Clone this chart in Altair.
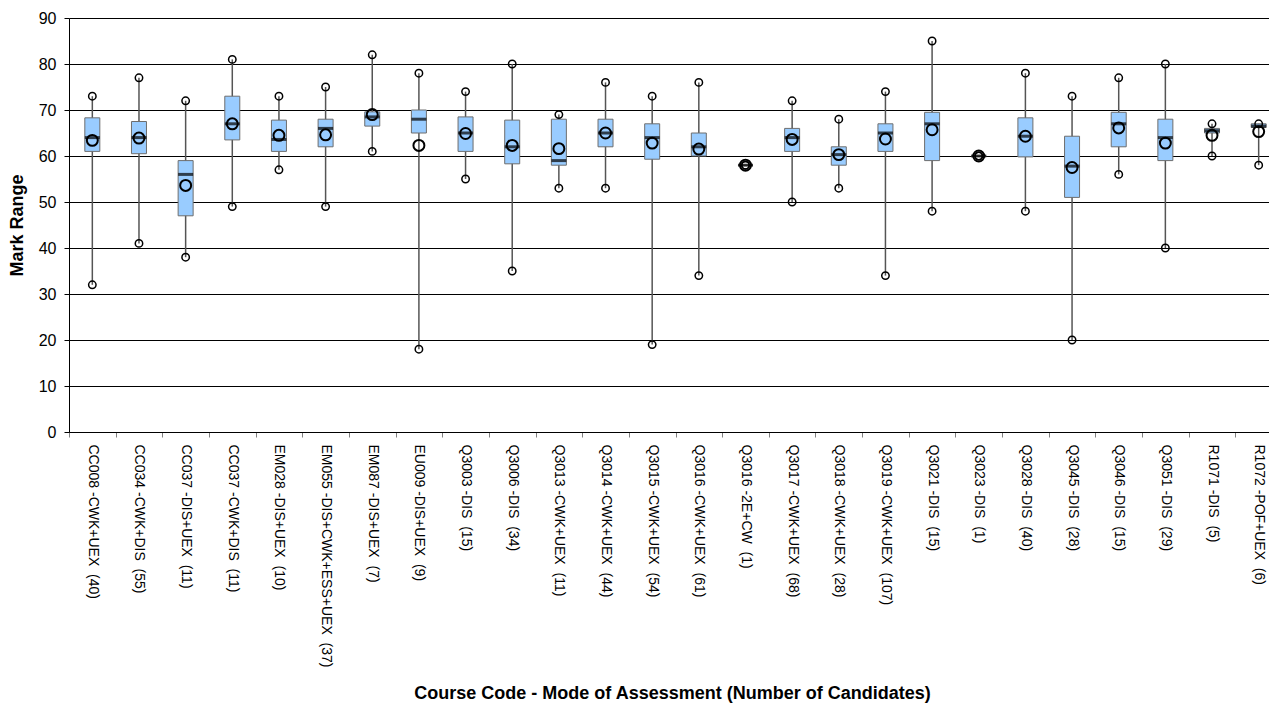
import altair as alt
import pandas as pd

categories = [
    "CC008 -CWK+UEX  (40)", "CC034 -CWK+DIS  (55)", "CC037 -DIS+UEX  (11)",
    "CC037 -CWK+DIS  (11)", "EM028 -DIS+UEX  (10)", "EM055 -DIS+CWK+ESS+UEX  (37)",
    "EM087 -DIS+UEX  (7)", "EU009 -DIS+UEX  (9)", "Q3003 -DIS  (15)", "Q3006 -DIS  (34)",
    "Q3013 -CWK+UEX  (11)", "Q3014 -CWK+UEX  (44)", "Q3015 -CWK+UEX  (54)",
    "Q3016 -CWK+UEX  (61)", "Q3016 -2E+CW  (1)", "Q3017 -CWK+UEX  (68)",
    "Q3018 -CWK+UEX  (28)", "Q3019 -CWK+UEX  (107)", "Q3021 -DIS  (15)",
    "Q3023 -DIS  (1)", "Q3028 -DIS  (40)", "Q3045 -DIS  (28)", "Q3046 -DIS  (15)",
    "Q3051 -DIS  (29)", "R1071 -DIS  (5)", "R1072 -POF+UEX  (6)",
]
mins = [32, 41, 38, 49, 57, 49, 61, 18, 55, 35, 53, 53, 19, 34, 58, 50, 53, 34, 48, 60, 48, 20, 56, 40, 60, 58]
q1s = [61, 60.5, 47, 63.5, 61, 62, 66.5, 65, 61, 58.3, 58, 62, 59.3, 60, 58, 61, 58, 61, 59, 60, 59.8, 51, 62, 59, 65, 66.2]
medians = [64, 64, 56, 67, 63.6, 66, 68.5, 68, 65, 62, 59, 65, 64, 62, 58, 64, 60.3, 65, 67, 60, 64.3, 57.8, 67, 64, 65.5, 66.5]
q3s = [68.3, 67.5, 59, 73, 67.8, 68, 69.6, 70, 68.5, 67.8, 68, 68, 67, 65, 58, 66, 62, 67, 69.5, 60, 68.3, 64.3, 69.5, 68, 66, 67]
maxs = [73, 77, 72, 81, 73, 75, 82, 78, 74, 80, 69, 76, 73, 76, 58, 72, 68, 74, 85, 60, 78, 73, 77, 80, 67, 67]
means = [63.4, 63.9, 53.6, 67.0, 64.5, 64.6, 69.0, 62.3, 64.9, 62.3, 61.6, 65.0, 62.8, 61.5, 58, 63.6, 60.3, 63.7, 65.7, 60, 64.3, 57.5, 66.1, 62.8, 64.5, 65.3]
y_ticks = [0, 10, 20, 30, 40, 50, 60, 70, 80, 90]

labels = [c.replace("  ", " \u00a0") for c in categories]

df = pd.DataFrame({
    "course": labels, "min": mins, "q1": q1s, "median": medians,
    "q3": q3s, "max": maxs, "mean": means,
})

FONT = "Liberation Sans"

x_axis = alt.Axis(
    title="Course Code - Mode of Assessment (Number of Candidates)",
    labelAngle=90, labelAlign="left", labelBaseline="middle",
    labelFontSize=14, labelFont=FONT, labelColor="black", labelPadding=7,
    labelLimit=400, tickBand="extent", tickSize=5, tickColor="#808080",
    domainColor="black", grid=False,
    titleFont=FONT, titleFontSize=18, titleFontWeight="bold", titleColor="black",
    titleX=603, titleY=266, titleAlign="center", titleBaseline="alphabetic",
)
x = alt.X("course:N", sort=labels,
          scale=alt.Scale(range=[0, 1213], paddingInner=0, paddingOuter=0),
          axis=x_axis)

y_axis = alt.Axis(
    title="Mark Range", values=y_ticks, grid=True, gridColor="black", gridWidth=1,
    domainColor="black", tickColor="black", tickSize=5,
    labelFont=FONT, labelFontSize=16, labelColor="black", labelPadding=8,
    titleFont=FONT, titleFontSize=18, titleFontWeight="bold", titleColor="black",
    titleX=-52, titleY=207, titleAngle=270, titleAlign="center", titleBaseline="middle",
)
y_scale = alt.Scale(domain=[0, 90], nice=False)

def Y(field):
    return alt.Y(f"{field}:Q", scale=y_scale, axis=y_axis, title="Mark Range")

base = alt.Chart(df).encode(x=x)

whisker = base.mark_rule(color="#555555", strokeWidth=1.5).encode(y=Y("min"), y2="max:Q")
box = base.mark_bar(size=15, color="#99CCFF", stroke="#6e6e6e", strokeWidth=1).encode(y=Y("q1"), y2="q3:Q")
median = base.mark_tick(color="black", size=15, thickness=3, orient="horizontal").encode(y=Y("median"))
minpt = base.mark_point(shape="circle", filled=False, color="black", size=55, strokeWidth=1.5, opacity=1).encode(y=Y("min"))
maxpt = base.mark_point(shape="circle", filled=False, color="black", size=55, strokeWidth=1.5, opacity=1).encode(y=Y("max"))
meanpt = base.mark_point(shape="circle", filled=False, color="black", size=120, strokeWidth=2, opacity=1).encode(y=Y("mean"))

chart = alt.layer(whisker, box, median, minpt, maxpt, meanpt).properties(
    width=1200, height=414,
    autosize=alt.AutoSizeParams(type="none"),
    padding={"left": 61, "top": 10, "right": 0, "bottom": 272},
    background="white",
).configure_view(strokeWidth=0)

chart.save("out.html", embed_options={"renderer": "svg", "actions": False})
